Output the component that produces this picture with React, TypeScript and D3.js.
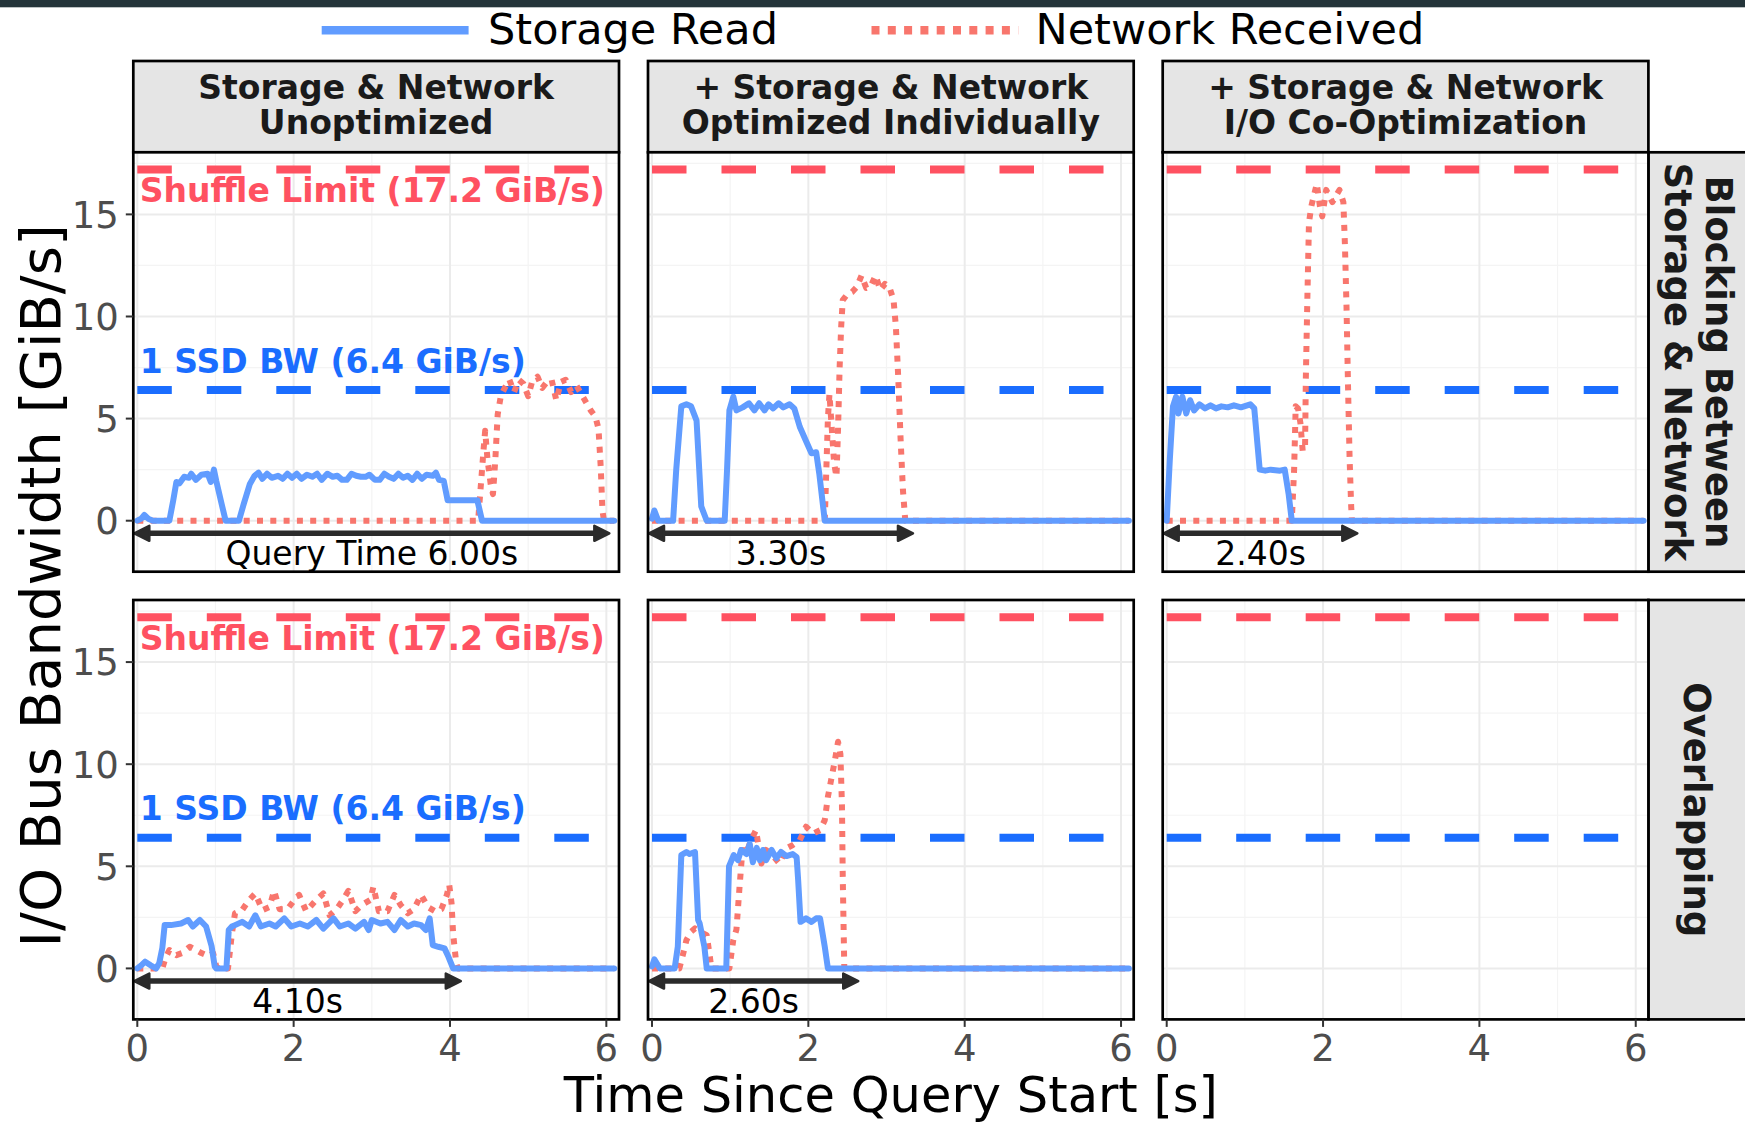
import React from 'react';
import * as d3 from 'd3';

type Pt = [number, number];

// ---------- labels / constants ----------
const colLabels: string[][] = [
  ['Storage & Network', 'Unoptimized'],
  ['+ Storage & Network', 'Optimized Individually'],
  ['+ Storage & Network', 'I/O Co-Optimization'],
];
const rowLabels: string[][] = [['Blocking Between', 'Storage & Network'], ['Overlapping']];
const xTicks = [0, 2, 4, 6];
const yTicks = [0, 5, 10, 15];
const xMinor = [1, 3, 5];
const yMinor = [2.5, 7.5, 12.5, 17.5];
const SHUFFLE_LIMIT = 17.2;
const SSD_BW = 6.4;
const queryTimes: (number | null)[][] = [[6.0, 3.3, 2.4], [4.1, 2.6, null]];
const queryLabels: string[][] = [['Query Time 6.00s', '3.30s', '2.40s'], ['4.10s', '2.60s', '']];
const legendLabels = ['Storage Read', 'Network Received'];

// ---------- series (time [s], GiB/s) ----------
const blockUnoptRead: Pt[] = [[0,0],[0.05,0.1],[0.09,0.28],[0.14,0.1],[0.2,0],[0.41,0],[0.46,1.0],[0.5,1.9],[0.54,1.83],[0.6,2.15],[0.66,2.1],[0.69,2.3],[0.75,2.0],[0.82,2.25],[0.9,2.3],[0.94,1.9],[0.98,2.5],[1.01,1.95],[1.08,0.8],[1.13,0],[1.3,0],[1.36,0.8],[1.44,1.8],[1.5,2.2],[1.55,2.35],[1.6,2.05],[1.66,2.3],[1.72,2.1],[1.8,2.2],[1.86,2.05],[1.92,2.3],[1.98,2.1],[2.04,2.3],[2.1,2.05],[2.17,2.25],[2.24,2.15],[2.3,2.3],[2.36,2.0],[2.43,2.3],[2.5,2.15],[2.56,2.2],[2.62,2.0],[2.68,2.0],[2.74,2.3],[2.8,2.2],[2.86,2.15],[2.92,2.15],[2.97,2.25],[3.04,2.0],[3.1,2.0],[3.16,2.3],[3.22,2.15],[3.28,2.05],[3.34,2.3],[3.4,2.1],[3.46,2.2],[3.52,2.0],[3.58,2.3],[3.64,2.05],[3.7,2.25],[3.78,2.2],[3.82,2.35],[3.86,2.0],[3.92,1.95],[3.97,1.0],[4.05,1.0],[4.15,1.0],[4.25,1.0],[4.35,1.0],[4.41,0],[6.1,0]];
const blockUnoptNet: Pt[] = [[0,0],[4.36,0],[4.4,2.0],[4.43,3.5],[4.45,4.4],[4.48,3.0],[4.52,1.8],[4.55,1.3],[4.58,3.0],[4.61,5.2],[4.65,6.1],[4.7,6.5],[4.76,6.9],[4.82,6.3],[4.88,6.9],[4.94,6.7],[5.0,6.1],[5.05,6.8],[5.12,7.05],[5.18,6.5],[5.24,6.8],[5.3,6.9],[5.36,5.9],[5.42,6.8],[5.48,6.9],[5.55,6.3],[5.62,6.6],[5.68,6.2],[5.74,5.8],[5.8,5.4],[5.86,5.1],[5.9,4.5],[5.93,2.5],[5.95,0.5],[5.97,0],[6.1,0]];

const blockIndivRead: Pt[] = [[0,0.1],[0.03,0.5],[0.08,0],[0.27,0],[0.31,2.5],[0.375,5.6],[0.44,5.7],[0.5,5.6],[0.57,4.9],[0.63,0.7],[0.7,0],[0.93,0],[0.96,2.5],[0.99,5.4],[1.04,6.07],[1.08,5.4],[1.16,5.55],[1.24,5.75],[1.31,5.4],[1.37,5.75],[1.44,5.4],[1.49,5.7],[1.55,5.5],[1.62,5.75],[1.68,5.55],[1.76,5.7],[1.82,5.5],[1.89,4.6],[1.97,3.9],[2.04,3.3],[2.1,3.35],[2.14,2.3],[2.21,0],[6.1,0]];
const blockIndivNet: Pt[] = [[0,0],[2.21,0],[2.23,2.5],[2.25,5.0],[2.27,6.2],[2.3,4.5],[2.33,2.8],[2.36,2.15],[2.38,4.5],[2.4,7.5],[2.42,9.5],[2.44,10.8],[2.5,11.1],[2.56,11.2],[2.62,11.45],[2.68,12.0],[2.74,11.4],[2.8,11.5],[2.86,12.0],[2.92,11.3],[2.98,11.6],[3.04,11.4],[3.09,10.8],[3.12,9.5],[3.15,7.0],[3.18,4.0],[3.21,1.5],[3.24,0],[6.1,0]];

const blockCoRead: Pt[] = [[0,0],[0.04,3.0],[0.08,5.6],[0.12,6.07],[0.15,5.25],[0.2,6.07],[0.25,5.25],[0.3,5.9],[0.35,5.4],[0.42,5.7],[0.49,5.5],[0.56,5.65],[0.63,5.5],[0.7,5.6],[0.78,5.55],[0.86,5.65],[0.95,5.55],[1.03,5.65],[1.07,5.7],[1.12,5.5],[1.19,2.5],[1.26,2.45],[1.33,2.5],[1.45,2.45],[1.51,2.5],[1.56,1.3],[1.6,0],[6.1,0]];
const blockCoNet: Pt[] = [[0,0],[1.6,0],[1.63,2.5],[1.65,5.6],[1.68,5.5],[1.71,4.8],[1.74,3.4],[1.77,3.6],[1.78,7.0],[1.8,11.0],[1.82,14.6],[1.85,15.4],[1.92,16.5],[1.96,15.4],[1.99,14.9],[2.04,16.2],[2.12,15.6],[2.21,16.2],[2.26,15.6],[2.28,13.5],[2.3,10.5],[2.32,6.5],[2.34,3.0],[2.36,0.7],[2.37,0],[6.1,0]];

const overlapUnoptRead: Pt[] = [[0,0],[0.05,0.15],[0.1,0.33],[0.17,0.15],[0.24,0],[0.28,0.25],[0.32,1.0],[0.35,2.12],[0.43,2.12],[0.56,2.2],[0.65,2.37],[0.71,2.05],[0.8,2.37],[0.88,2.05],[0.95,1.1],[0.99,0.1],[1.01,0],[1.14,0],[1.17,1.88],[1.21,2.05],[1.25,2.12],[1.34,2.28],[1.43,2.05],[1.51,2.6],[1.58,2.05],[1.69,2.2],[1.77,2.05],[1.88,2.45],[1.97,2.05],[2.08,2.2],[2.18,2.05],[2.29,2.37],[2.38,1.95],[2.51,2.45],[2.59,2.05],[2.7,2.2],[2.79,1.95],[2.9,2.28],[2.96,1.88],[3.0,2.37],[3.11,2.2],[3.2,2.28],[3.29,1.88],[3.37,2.37],[3.46,2.05],[3.54,2.2],[3.63,2.12],[3.69,1.88],[3.74,2.45],[3.78,1.14],[3.85,1.06],[3.93,0.98],[3.98,0.57],[4.04,0],[6.1,0]];
const overlapUnoptNet: Pt[] = [[0,0],[0.32,0],[0.36,0.5],[0.41,0.9],[0.5,0.65],[0.57,0.75],[0.67,1.06],[0.75,0.9],[0.82,0.75],[0.91,0.6],[0.97,0.75],[1.01,0.1],[1.04,0],[1.16,0],[1.21,1.7],[1.25,2.7],[1.34,2.85],[1.43,3.35],[1.51,3.67],[1.6,2.85],[1.69,3.0],[1.75,3.8],[1.82,2.9],[1.92,2.9],[2.01,3.35],[2.07,3.6],[2.16,2.8],[2.29,3.35],[2.38,3.67],[2.46,2.6],[2.55,2.9],[2.64,3.4],[2.7,3.8],[2.79,2.8],[2.87,3.1],[2.98,3.35],[3.02,4.0],[3.09,2.8],[3.2,2.8],[3.29,3.6],[3.37,3.1],[3.46,2.7],[3.54,2.9],[3.63,3.6],[3.72,3.0],[3.81,2.8],[3.89,2.9],[3.96,3.6],[3.99,4.1],[4.02,3.2],[4.04,1.7],[4.08,0.25],[4.1,0],[6.1,0]];

const overlapIndivRead: Pt[] = [[0,0.1],[0.03,0.44],[0.1,0],[0.29,0],[0.33,1.06],[0.375,5.55],[0.44,5.7],[0.48,5.6],[0.55,5.7],[0.59,2.37],[0.61,2.2],[0.67,1.06],[0.7,0],[0.95,0],[0.985,5.0],[1.045,5.55],[1.1,5.3],[1.14,5.8],[1.21,5.6],[1.25,6.1],[1.29,5.2],[1.34,5.9],[1.38,5.3],[1.42,5.8],[1.46,5.3],[1.53,5.8],[1.59,5.4],[1.65,5.7],[1.72,5.5],[1.8,5.6],[1.85,5.45],[1.87,4.3],[1.9,2.28],[1.97,2.45],[2.04,2.28],[2.1,2.45],[2.15,2.45],[2.21,1.06],[2.25,0],[6.1,0]];
const overlapIndivNet: Pt[] = [[0,0],[0.35,0],[0.4,0.74],[0.44,1.38],[0.5,1.8],[0.55,1.96],[0.61,1.8],[0.7,1.63],[0.74,0.57],[0.76,0],[0.99,0],[1.04,1.4],[1.08,1.9],[1.12,4.0],[1.16,5.96],[1.22,5.8],[1.27,6.3],[1.33,6.77],[1.4,5.14],[1.46,5.8],[1.55,5.5],[1.63,5.14],[1.72,5.88],[1.8,6.04],[1.89,6.27],[1.97,6.94],[2.06,6.6],[2.15,6.77],[2.21,7.26],[2.25,8.4],[2.29,9.2],[2.34,10.2],[2.38,11.1],[2.41,10.5],[2.43,8.0],[2.44,4.5],[2.46,0],[6.1,0]];

const readSeries: (Pt[] | null)[][] = [
  [blockUnoptRead, blockIndivRead, blockCoRead],
  [overlapUnoptRead, overlapIndivRead, null],
];
const netSeries: (Pt[] | null)[][] = [
  [blockUnoptNet, blockIndivNet, blockCoNet],
  [overlapUnoptNet, overlapIndivNet, null],
];

// ---------- layout / style ----------
const W = 1745;
const H = 1123;
const PANEL_X = [133.3, 648, 1162.7];
const PANEL_Y = [152.3, 600];
const PANEL_W = 485.7;
const PANEL_H = 419.4;
const STRIP_TOP = 61;
const STRIP_RIGHT_X = PANEL_X[2] + PANEL_W;
const FONT = "'DejaVu Sans', Verdana, sans-serif";
const READ_COLOR = '#619CFF';
const NET_COLOR = '#F8766D';
const SHUFFLE_COLOR = '#FF5161';
const SSD_COLOR = '#1A6DFF';

const x = d3.scaleLinear().domain([-0.0512, 6.162]).range([0, PANEL_W]);
const y = d3.scaleLinear().domain([-2.497, 18.04]).range([PANEL_H, 0]);
const lineGen = d3.line<Pt>().x((d) => x(d[0])).y((d) => y(d[1]));

function Panel({ r, c }: { r: number; c: number }) {
  const read = readSeries[r][c];
  const net = netSeries[r][c];
  const qt = queryTimes[r][c];
  const ay = y(-0.62);
  return (
    <g transform={`translate(${PANEL_X[c]},${PANEL_Y[r]})`}>
      <rect x={0} y={0} width={PANEL_W} height={PANEL_H} fill="#FFFFFF" />
      {xMinor.map((t) => (
        <line key={'xm' + t} x1={x(t)} x2={x(t)} y1={0} y2={PANEL_H} stroke="#F4F4F4" strokeWidth={1.2} />
      ))}
      {yMinor.map((t) => (
        <line key={'ym' + t} x1={0} x2={PANEL_W} y1={y(t)} y2={y(t)} stroke="#F4F4F4" strokeWidth={1.2} />
      ))}
      {xTicks.map((t) => (
        <line key={'xM' + t} x1={x(t)} x2={x(t)} y1={0} y2={PANEL_H} stroke="#EBEBEB" strokeWidth={2} />
      ))}
      {yTicks.map((t) => (
        <line key={'yM' + t} x1={0} x2={PANEL_W} y1={y(t)} y2={y(t)} stroke="#EBEBEB" strokeWidth={2} />
      ))}
      <line x1={x(0)} x2={x(6)} y1={y(SHUFFLE_LIMIT)} y2={y(SHUFFLE_LIMIT)} stroke={SHUFFLE_COLOR} strokeWidth={8} strokeDasharray="34.5 35" />
      <line x1={x(0)} x2={x(6)} y1={y(SSD_BW)} y2={y(SSD_BW)} stroke={SSD_COLOR} strokeWidth={8} strokeDasharray="34.5 35" />
      {net && (
        <path d={lineGen(net) || ''} fill="none" stroke={NET_COLOR} strokeWidth={6} strokeDasharray="6 7.3" strokeLinejoin="round" />
      )}
      {read && (
        <path d={lineGen(read) || ''} fill="none" stroke={READ_COLOR} strokeWidth={6} strokeLinejoin="round" strokeLinecap="round" />
      )}
      {c === 0 && (
        <g fontFamily={FONT} fontWeight="bold" fontSize={33}>
          <text x={x(0) + 2.5} y={y(15.6)} fill={SHUFFLE_COLOR}>Shuffle Limit (17.2 GiB/s)</text>
          <text x={x(0) + 2.5} y={y(7.25)} fill={SSD_COLOR}>1 SSD BW (6.4 GiB/s)</text>
        </g>
      )}
      {qt !== null && (
        <g>
          <line x1={x(0) + 8} x2={x(qt) - 8} y1={ay} y2={ay} stroke="#2B2B2B" strokeWidth={5.5} />
          <polygon
            points={`${x(0) - 3},${ay} ${x(0) + 12},${ay - 7.5} ${x(0) + 12},${ay + 7.5}`}
            fill="#2B2B2B" stroke="#2B2B2B" strokeWidth={2.5} strokeLinejoin="round"
          />
          <polygon
            points={`${x(qt) + 3},${ay} ${x(qt) - 12},${ay - 7.5} ${x(qt) - 12},${ay + 7.5}`}
            fill="#2B2B2B" stroke="#2B2B2B" strokeWidth={2.5} strokeLinejoin="round"
          />
          <text x={x(qt / 2)} y={y(-2.18)} textAnchor="middle" fontFamily={FONT} fontSize={33} fill="#000">
            {queryLabels[r][c]}
          </text>
        </g>
      )}
      <rect x={0} y={0} width={PANEL_W} height={PANEL_H} fill="none" stroke="#000" strokeWidth={2.7} />
    </g>
  );
}

export default function App() {
  const rows = [0, 1];
  const cols = [0, 1, 2];
  return (
    <svg
      width={W}
      height={H}
      viewBox={`0 0 ${W} ${H}`}
      style={{ position: 'absolute', left: 0, top: 0, background: '#fff' }}
      fontFamily={FONT}
    >
      <rect x={0} y={0} width={W} height={H} fill="#FFFFFF" />
      <rect x={0} y={0} width={W} height={7.3} fill="#24353A" />

      {/* legend */}
      <line x1={321.7} x2={468.6} y1={30.3} y2={30.3} stroke={READ_COLOR} strokeWidth={8.5} />
      <text x={488} y={44} fontSize={43} fill="#000">{legendLabels[0]}</text>
      <line x1={871.5} x2={1018.4} y1={30.3} y2={30.3} stroke={NET_COLOR} strokeWidth={8.5} strokeDasharray="8 8.3" />
      <text x={1035.5} y={44} fontSize={43} fill="#000">{legendLabels[1]}</text>

      {/* column strips */}
      {cols.map((c) => (
        <g key={'cs' + c}>
          <rect x={PANEL_X[c]} y={STRIP_TOP} width={PANEL_W} height={PANEL_Y[0] - STRIP_TOP} fill="#E5E5E5" stroke="#000" strokeWidth={2.7} />
          {colLabels[c].map((s, i) => (
            <text key={i} x={PANEL_X[c] + PANEL_W / 2} y={99 + i * 34.5} textAnchor="middle" fontWeight="bold" fontSize={33} fill="#1A1A1A">
              {s}
            </text>
          ))}
        </g>
      ))}

      {/* row strips */}
      {rows.map((r) => {
        const cy = PANEL_Y[r] + PANEL_H / 2;
        const cx = 1697;
        const lines = rowLabels[r];
        const base = lines.length === 2 ? [cx - 1706, cx - 1665] : [cx - 1684];
        return (
          <g key={'rs' + r}>
            <rect x={STRIP_RIGHT_X} y={PANEL_Y[r]} width={110} height={PANEL_H} fill="#E5E5E5" stroke="#000" strokeWidth={2.7} />
            <g transform={`translate(${cx},${cy}) rotate(90)`}>
              {lines.map((s, i) => (
                <text key={i} x={0} y={base[i]} textAnchor="middle" fontWeight="bold" fontSize={37} fill="#1A1A1A">
                  {s}
                </text>
              ))}
            </g>
          </g>
        );
      })}

      {rows.map((r) => cols.map((c) => <Panel key={`p${r}${c}`} r={r} c={c} />))}

      {/* y axis ticks (left column) */}
      {rows.map((r) => (
        <g key={'ya' + r} transform={`translate(${PANEL_X[0]},${PANEL_Y[r]})`}>
          {yTicks.map((t) => (
            <g key={t}>
              <line x1={-7.5} x2={0} y1={y(t)} y2={y(t)} stroke="#333333" strokeWidth={2} />
              <text x={-14.5} y={y(t)} dy="0.36em" textAnchor="end" fontSize={37} fill="#4D4D4D">{t}</text>
            </g>
          ))}
        </g>
      ))}

      {/* x axis ticks (bottom row) */}
      {cols.map((c) => (
        <g key={'xa' + c} transform={`translate(${PANEL_X[c]},${PANEL_Y[1] + PANEL_H})`}>
          {xTicks.map((t) => (
            <g key={t}>
              <line x1={x(t)} x2={x(t)} y1={0} y2={7.5} stroke="#333333" strokeWidth={2} />
              <text x={x(t)} y={41.3} textAnchor="middle" fontSize={37} fill="#4D4D4D">{t}</text>
            </g>
          ))}
        </g>
      ))}

      {/* axis titles */}
      <text x={(PANEL_X[0] + STRIP_RIGHT_X) / 2} y={1112} textAnchor="middle" fontSize={49.5} fill="#000">
        Time Since Query Start [s]
      </text>
      <text
        transform={`translate(60,${(PANEL_Y[0] + PANEL_Y[1] + PANEL_H) / 2}) rotate(-90)`}
        textAnchor="middle"
        fontSize={56}
        fill="#000"
      >
        I/O Bus Bandwidth [GiB/s]
      </text>
    </svg>
  );
}
